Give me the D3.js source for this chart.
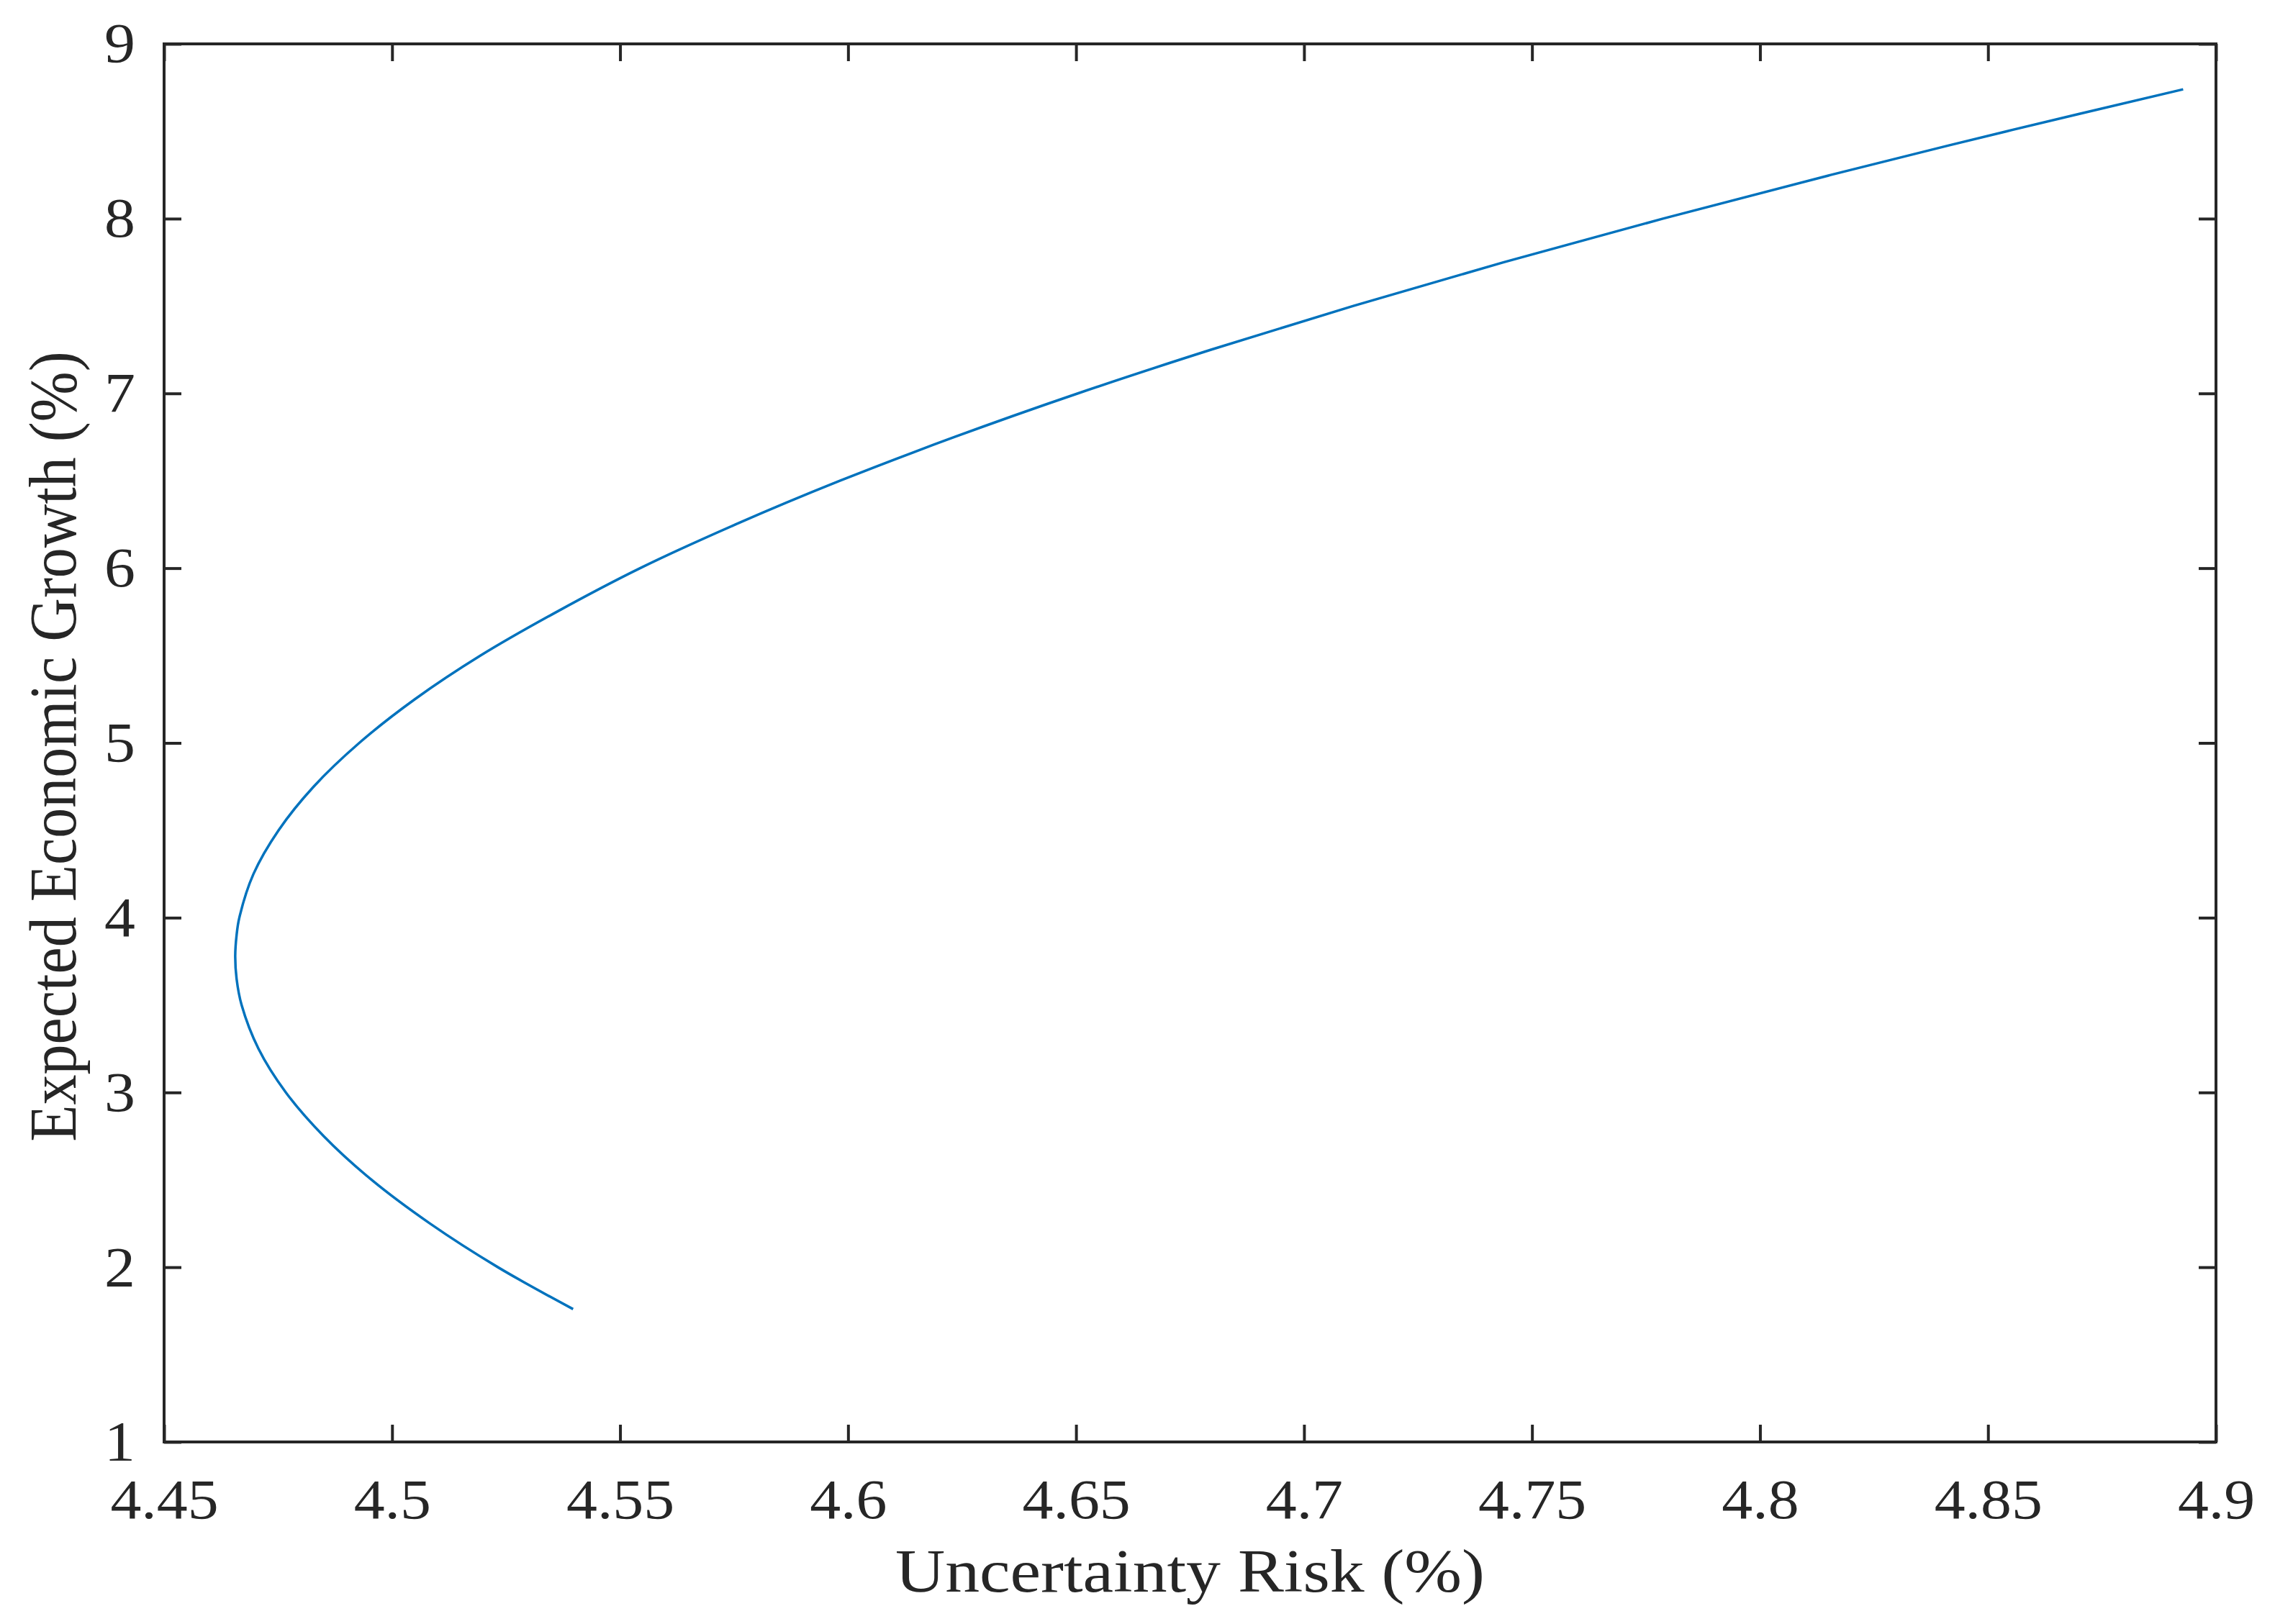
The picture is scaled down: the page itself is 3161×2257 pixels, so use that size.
<!DOCTYPE html>
<html>
<head>
<meta charset="utf-8">
<script src="https://cdn.jsdelivr.net/npm/d3@7"></script>
<style>
  html, body { margin: 0; padding: 0; background: #ffffff; }
  svg { display: block; }
</style>
</head>
<body>
<script>
// ---- data ----
const growth = [1.76, 2.0, 2.25, 2.5, 2.75, 3.0, 3.25, 3.5, 3.65, 3.78, 3.9, 4.0, 4.25, 4.5, 4.75, 5.0, 5.25, 5.5, 5.75, 6.0, 6.25, 6.5, 6.75, 7.0, 7.25, 7.5, 7.75, 8.0, 8.25, 8.5, 8.74];
const risk   = [4.5397, 4.5232, 4.5083, 4.4955, 4.4850, 4.4767, 4.4707, 4.4670, 4.4659, 4.4656, 4.4659, 4.4665, 4.4696, 4.4751, 4.4828, 4.4928, 4.5050, 4.5194, 4.5361, 4.5544, 4.5753, 4.5982, 4.6233, 4.6504, 4.6796, 4.7107, 4.7437, 4.7787, 4.8155, 4.8541, 4.8928];
const xTicks = [4.45, 4.5, 4.55, 4.6, 4.65, 4.7, 4.75, 4.8, 4.85, 4.9];
const yTicks = [1, 2, 3, 4, 5, 6, 7, 8, 9];
const xLabel = "Uncertainty Risk (%)";
const yLabel = "Expected Economic Growth (%)";

const W = 3161, H = 2257;
const L = 228, R = 3079, T = 61, B = 2004;
const ink = "#262626";
const font = "'Liberation Serif', 'Times New Roman', serif";
const hs = 1.1;   // horizontal stretch of the text in the reference

const svg = d3.select("body").append("svg").attr("width", W).attr("height", H);
svg.append("rect").attr("width", W).attr("height", H).attr("fill", "#fff");

const x = d3.scaleLinear().domain([4.45, 4.9]).range([L, R]);
const y = d3.scaleLinear().domain([1, 9]).range([B, T]);

function styleAxis(g) {
  g.select(".domain").remove();
  g.selectAll(".tick line").attr("stroke", ink).attr("stroke-width", 4);
  g.selectAll(".tick text").attr("fill", ink).style("font-family", font).style("font-size", "78px");
}

// bottom axis
const gb = svg.append("g").attr("transform", `translate(0,${B})`)
  .call(d3.axisBottom(x).tickValues(xTicks).tickFormat(d => String(+d.toFixed(2))).tickSizeInner(-24).tickSizeOuter(0).tickPadding(10));
styleAxis(gb);
gb.selectAll(".tick text").attr("y", 106).attr("dy", null).attr("transform", `scale(${hs},1)`);

// top axis (ticks only)
const gt = svg.append("g").attr("transform", `translate(0,${T})`)
  .call(d3.axisTop(x).tickValues(xTicks).tickFormat("").tickSizeInner(-24).tickSizeOuter(0));
styleAxis(gt);

// left axis
const gl = svg.append("g").attr("transform", `translate(${L},0)`)
  .call(d3.axisLeft(y).tickValues(yTicks).tickFormat(d3.format("d")).tickSizeInner(-24).tickSizeOuter(0).tickPadding(40));
styleAxis(gl);
gl.selectAll(".tick text").attr("x", -40 / hs).attr("transform", `scale(${hs},1)`);

// right axis (ticks only)
const gr = svg.append("g").attr("transform", `translate(${R},0)`)
  .call(d3.axisRight(y).tickValues(yTicks).tickFormat("").tickSizeInner(-24).tickSizeOuter(0));
styleAxis(gr);

// frame
svg.append("rect").attr("x", L).attr("y", T).attr("width", R - L).attr("height", B - T)
  .attr("fill", "none").attr("stroke", ink).attr("stroke-width", 4);

// curve
const pts = growth.map((g, i) => [risk[i], g]);
const line = d3.line().x(d => x(d[0])).y(d => y(d[1])).curve(d3.curveCatmullRom.alpha(0.5));
svg.append("path").datum(pts).attr("d", line)
  .attr("fill", "none").attr("stroke", "#0072BD").attr("stroke-width", 3.5)
  .attr("stroke-linejoin", "round").attr("stroke-linecap", "butt");

// axis labels
svg.append("text").attr("transform", `translate(${(L + R) / 2},2212) scale(1.14,1)`)
  .attr("text-anchor", "middle").attr("fill", ink)
  .style("font-family", font).style("font-size", "84px").text(xLabel);

svg.append("text").attr("transform", `translate(105,${(T + B) / 2 + 5}) rotate(-90) scale(1,1.12)`)
  .attr("text-anchor", "middle").attr("fill", ink)
  .style("font-family", font).style("font-size", "84px").text(yLabel);
</script>
</body>
</html>
